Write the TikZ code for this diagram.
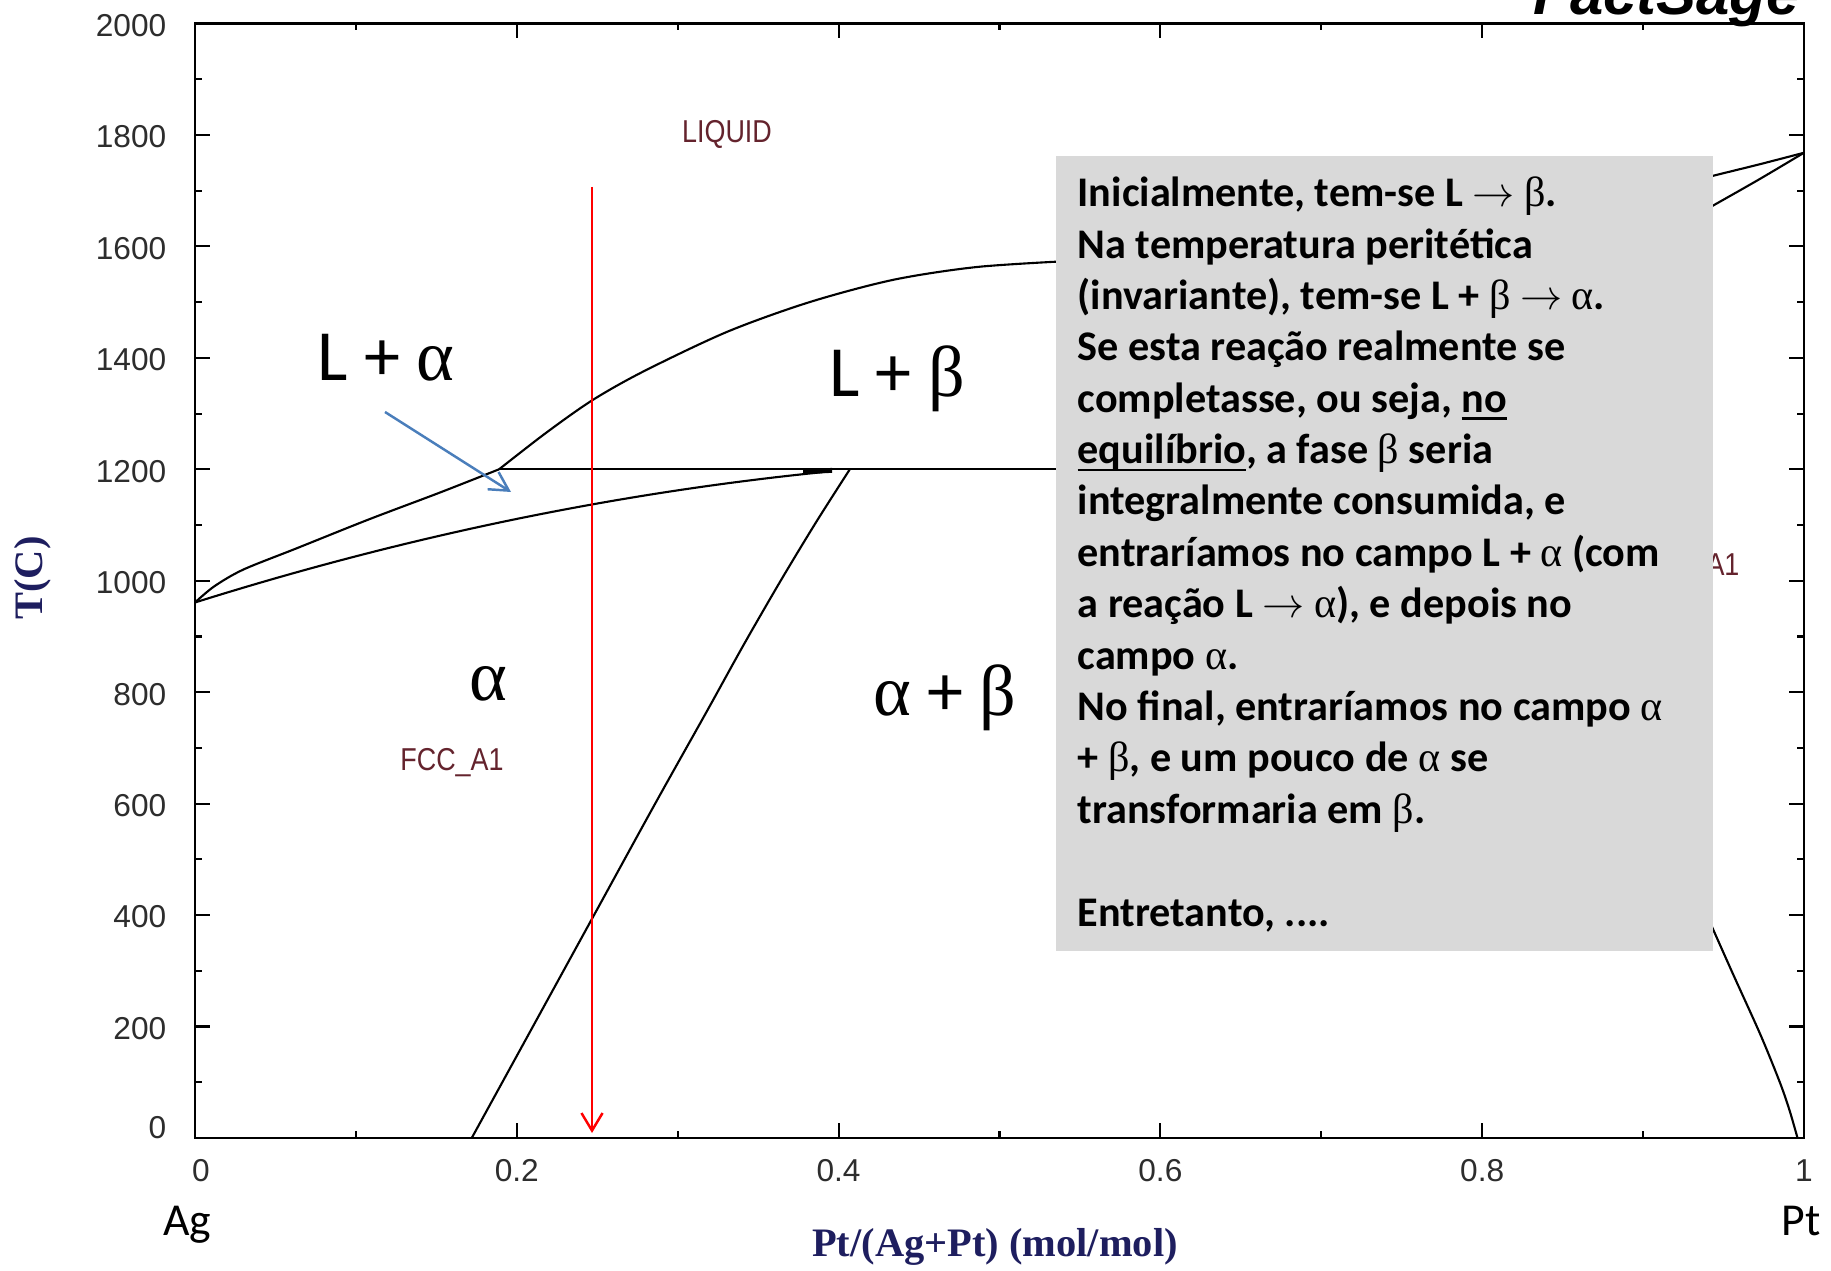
\documentclass[tikz,border=0pt]{standalone}
\usepackage{fontspec}
\setmainfont{Carlito}
\newfontfamily\grk{Liberation Serif}
\newfontfamily\plotfont{Liberation Sans}
\newfontfamily\axisfont{Liberation Serif}
\usetikzlibrary{arrows.meta}
\definecolor{boxgray}{RGB}{217,217,217}
\definecolor{axisnavy}{RGB}{30,30,95}
\definecolor{phaselbl}{RGB}{100,35,45}
\definecolor{arrowblue}{RGB}{74,126,187}
\definecolor{ticklbl}{RGB}{45,45,45}
\newcommand\myalpha{{\grk\mdseries α}}
\newcommand\mybeta{{\grk\mdseries β}}
\newcommand\myarrow{\ensuremath{\rightarrow}}
\newcommand\ulin[1]{\setbox0\hbox{#1}\rlap{\rule[-2.2pt]{\wd0}{0.8pt}}\box0}
\begin{document}
\begin{tikzpicture}[x=0.01cm,y=-0.01cm,
  frame/.style={line width=0.7pt,black},
  tickmark/.style={line width=0.6pt,black},
  phase/.style={line width=0.6pt,black,line join=round},
  ticklabel/.style={font=\plotfont\fontsize{9}{10}\selectfont,text=ticklbl,inner sep=0pt},
  phasename/.style={font=\plotfont\fontsize{9}{10}\selectfont,text=phaselbl,inner sep=0pt,xscale=0.85},
  axistitle/.style={font=\axisfont\bfseries\fontsize{11.5}{13}\selectfont,text=axisnavy,inner sep=0pt},
  biglbl/.style={font=\fontsize{20.5}{24}\selectfont,inner sep=0pt,anchor=base},
  endlbl/.style={font=\fontsize{13}{15}\selectfont,inner sep=0pt,anchor=base},
  boxline/.style={font=\fontsize{12}{14.5}\selectfont\bfseries,inner sep=0pt,anchor=base west},
  notebox/.style={fill=boxgray,draw=none},
  redarrow/.style={line width=0.7pt,red,-{Straight Barb[length=5pt,width=6pt]}},
  bluearrow/.style={line width=0.7pt,arrowblue,-{Straight Barb[length=5.3pt,width=5.8pt]}},
  logo/.style={font=\plotfont\bfseries\itshape\fontsize{17}{18}\selectfont,inner sep=0pt,anchor=base east}
]
\useasboundingbox (0,0) rectangle (1831,1271);
\fill[white] (0,0) rectangle (1831,1271);
\clip (0,0) rectangle (1831,1271);

% logo (cut off at top)
\node[logo] (factsage) at (1800,15) {FactSage};

% ---------- plot in data coordinates ----------
\begin{scope}[shift={(195,1138)}, x=16.08cm, y=0.005565cm]
  % ticks
  \foreach \xx in {0.2,0.4,0.6,0.8} {
    \draw[tickmark] (\xx,0) -- ++(0,0.15cm);
    \draw[tickmark] (\xx,2000) -- ++(0,-0.15cm);
  }
  \foreach \xx in {0.1,0.3,0.5,0.7,0.9} {
    \draw[tickmark] (\xx,0) -- ++(0,0.07cm);
    \draw[tickmark] (\xx,2000) -- ++(0,-0.07cm);
  }
  \foreach \tt in {200,400,...,1800} {
    \draw[tickmark] (0,\tt) -- ++(0.15cm,0);
    \draw[tickmark] (1,\tt) -- ++(-0.15cm,0);
  }
  \foreach \tt in {100,300,...,1900} {
    \draw[tickmark] (0,\tt) -- ++(0.07cm,0);
    \draw[tickmark] (1,\tt) -- ++(-0.07cm,0);
  }
  % tick labels
  \foreach \tt [count=\i] in {200,400,...,2000}
    \node[ticklabel,anchor=east] (yl\i) at ([xshift=-0.28cm,yshift=-0.02cm]0,\tt) {\tt};
  \node[ticklabel,anchor=east] (yl0) at ([xshift=-0.28cm,yshift=0.1cm]0,0) {0};
  \node[ticklabel] (xl0) at ([xshift=0.06cm,yshift=-0.33cm]0,0) {0};
  \foreach \xx [count=\i] in {0.2,0.4,0.6,0.8}
    \node[ticklabel] (xl\i) at ([yshift=-0.33cm]\xx,0) {\xx};
  \node[ticklabel] (xl5) at ([yshift=-0.33cm]1,0) {1};

  % phase boundaries
  % alpha liquidus
  \draw[phase] plot[smooth] coordinates {(0,961) (0.012,990) (0.03,1020) (0.063,1058) (0.108,1110) (0.152,1158) (0.189,1200)};
  % beta liquidus
  \draw[phase] plot[smooth] coordinates {(0.189,1200) (0.218,1265) (0.247,1324) (0.279,1376) (0.331,1447) (0.382,1500) (0.434,1540) (0.486,1563) (0.545,1574)};
  % alpha solidus
  \draw[phase] plot[domain=0:0.392, samples=40] (\x, {961+907.7*\x-790*\x*\x});
  \draw[line width=1.4pt] (0.378,1196) -- (0.396,1198);
  % peritectic isotherm
  \draw[phase] (0.189,1200) -- (0.6,1200);
  % alpha solvus
  \draw[phase] plot[smooth] coordinates {(0.407,1200) (0.386,1105) (0.364,1000) (0.341,885) (0.318,765) (0.286,600) (0.248,400) (0.21,200) (0.172,0)};
  % near Pt
  \draw[phase] plot[smooth] coordinates {(0.93,1716) (0.944,1727) (0.972,1747) (1,1768)};
  \draw[phase] plot[smooth] coordinates {(0.93,1651) (0.944,1674) (0.972,1720) (1,1768)};
  \draw[phase] plot[smooth] coordinates {(0.935,430) (0.955,300) (0.973,185) (0.985,100) (0.991,50) (0.996,0)};

  % frame
  \draw[frame] (0,0) rectangle (1,2000);
\end{scope}

% phase names from the program
\node[phasename] (liq) at (727,134) {LIQUID};
\node[phasename] (fcc) at (452,763) {FCC\_A1};
\node[phasename,anchor=east] (fccr) at (1740,565) {A1};

% axis titles and end members
\node[axistitle,rotate=90] (ytitle) at (33,578) {T(C)};
\node[axistitle] (xtitle) at (995,1247) {Pt/(Ag+Pt) (mol/mol)};
\node[endlbl] (ag) at (187,1235) {Ag};
\node[endlbl] (pt) at (1801,1235) {Pt};

% big field labels
\node[biglbl] (la) at (386,381) {L + \myalpha};
\node[biglbl] (lb) at (897,397) {L + \mybeta};
\node[biglbl] (a) at (488,701) {\myalpha};
\node[biglbl] (ab) at (945,716) {\myalpha{} + \mybeta};

% arrows
\coordinate (rtop) at (592,187);
\coordinate (rbot) at (592,1133);
\draw[redarrow] (rtop) -- (rbot);
\coordinate (bstart) at (385,412);
\coordinate (bend) at (511,492);
\draw[bluearrow] (bstart) -- (bend);

% note box
\fill[notebox] (1056,156) rectangle (1713,951);
\node[boxline] (t1) at (1077,206.7) {Inicialmente, tem-se L \myarrow{} \mybeta.};
\node[boxline] (t2) at (1077,258.1) {Na temperatura peritética};
\node[boxline] (t3) at (1077,309.5) {(invariante), tem-se L + \mybeta{} \myarrow{} \myalpha.};
\node[boxline] (t4) at (1077,360.8) {Se esta reação realmente se};
\node[boxline] (t5) at (1077,412.2) {completasse, ou seja, \ulin{no}};
\node[boxline] (t6) at (1077,463.6) {\ulin{equilíbrio}, a fase \mybeta{} seria};
\node[boxline] (t7) at (1077,515.0) {integralmente consumida, e};
\node[boxline] (t8) at (1077,566.4) {entraríamos no campo L + \myalpha{} (com};
\node[boxline] (t9) at (1077,617.7) {a reação L \myarrow{} \myalpha), e depois no};
\node[boxline] (t10) at (1077,669.1) {campo \myalpha.};
\node[boxline] (t11) at (1077,720.5) {No final, entraríamos no campo \myalpha};
\node[boxline] (t12) at (1077,771.9) {+ \mybeta, e um pouco de \myalpha{} se};
\node[boxline] (t13) at (1077,823.3) {transformaria em \mybeta.};
\node[boxline] (t15) at (1077,926.0) {Entretanto, ....};
\end{tikzpicture}
\end{document}
